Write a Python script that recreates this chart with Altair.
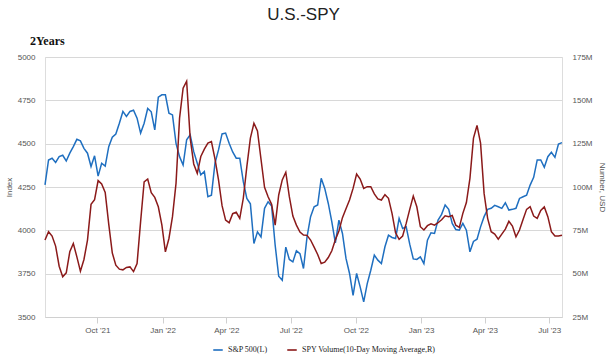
import altair as alt
import pandas as pd

start_date = "2021-07-19"
step_days = 5

sp500 = [
    4262, 4406, 4416, 4392, 4425, 4433, 4400, 4445, 4483, 4525,
    4516, 4473, 4445, 4368, 4430, 4313, 4387, 4371, 4483, 4537,
    4556, 4618, 4686, 4657, 4686, 4693, 4647, 4561, 4618, 4703,
    4684, 4579, 4768, 4782, 4782, 4676, 4666, 4502, 4425, 4377,
    4522, 4551, 4454, 4387, 4320, 4339, 4194, 4203, 4387, 4464,
    4556, 4561, 4502, 4452, 4416, 4416, 4281, 4184, 4153, 3924,
    3991, 3962, 4127, 4165, 4140, 3914, 3735, 3712, 3903, 3832,
    3818, 3882, 3866, 3780, 3962, 4079, 4136, 4146, 4300, 4242,
    4155, 4049, 3928, 4059, 3982, 3838, 3751, 3625, 3751, 3674,
    3587, 3693, 3770, 3857, 3828, 3809, 3905, 3972, 3959, 3953,
    4069, 4011, 4020, 3920, 3835, 3832, 3847, 3808, 3943, 3986,
    3982, 4059, 4092, 4146, 4121, 4040, 4005, 4001, 4040, 4001,
    3876, 3936, 3949, 4020, 4079, 4121, 4127, 4144, 4136, 4127,
    4159, 4117, 4121, 4127, 4184, 4194, 4203, 4261, 4306, 4406,
    4406, 4364, 4425, 4450, 4421, 4498, 4506,
]

spy_volume_m = [
    69.4, 74.2, 71.7, 65.9, 54.3, 48.2, 50.5, 62.6, 67.4, 59.7,
    51.4, 58.2, 69.4, 90.0, 92.7, 103.7, 101.8, 96.9, 78.6, 62.0,
    54.9, 52.6, 52.2, 53.6, 53.9, 51.2, 55.9, 80.0, 103.0, 104.6,
    96.7, 94.0, 88.6, 78.1, 62.6, 70.3, 82.9, 102.1, 139.7, 157.0,
    161.0, 128.2, 113.3, 107.9, 117.6, 121.8, 125.3, 126.2, 116.2, 104.1,
    89.2, 80.9, 79.4, 84.6, 85.4, 81.9, 93.5, 111.8, 128.2, 136.8,
    132.4, 116.0, 99.8, 94.4, 90.0, 78.0, 95.4, 104.1, 108.5, 94.4,
    83.2, 78.0, 74.0, 72.3, 72.1, 69.4, 65.3, 61.1, 55.9, 56.6,
    59.3, 63.2, 69.6, 74.6, 82.3, 87.5, 92.5, 99.2, 107.5, 104.6,
    99.2, 100.2, 100.2, 96.0, 93.1, 92.5, 95.6, 93.5, 84.8, 73.6,
    69.8, 71.7, 79.0, 87.1, 94.8, 88.6, 77.1, 75.2, 77.7, 78.8,
    78.0, 79.4, 81.1, 83.4, 82.9, 83.6, 78.0, 76.7, 84.8, 91.0,
    105.0, 128.2, 135.5, 125.3, 96.3, 81.9, 74.2, 72.8, 69.9, 72.8,
    75.7, 80.2, 77.5, 71.3, 75.2, 81.3, 87.1, 88.6, 83.2, 81.9,
    86.5, 88.5, 82.9, 74.2, 71.7, 71.7, 72.2,
]

series_names = ["S&P 500(L)", "SPY Volume(10-Day Moving Average,R)"]
series_colors = ["#1f6fc0", "#8b1a1a"]
left_ticks = [3500, 3750, 4000, 4250, 4500, 4750, 5000]
right_ticks = [25, 50, 75, 100, 125, 150, 175]
quarter_ticks = [(2021, 10), (2022, 1), (2022, 4), (2022, 7),
                 (2022, 10), (2023, 1), (2023, 4), (2023, 7)]

dates = pd.date_range(start_date, periods=len(sp500), freq=f"{step_days}D")
df = pd.DataFrame({
    "date": dates.strftime("%Y-%m-%dT00:00:00"),
    "sp500": sp500,
    "volume": spy_volume_m,
})

LABEL_FONT = "Liberation Sans"
GRAY = "#555555"

color_scale = alt.Scale(domain=series_names, range=series_colors)
legend = alt.Legend(
    orient="none", legendX=167, legendY=287, direction="horizontal",
    title=None, symbolType="stroke", symbolStrokeWidth=1.6, symbolSize=90,
    labelFont="Liberation Serif", labelFontSize=8, labelColor="#222222",
    columnPadding=16, labelOffset=4, padding=0,
)
color_enc = alt.Color("series:N", scale=color_scale, legend=legend)

x_enc = alt.X(
    "date:T",
    scale=alt.Scale(domain=[alt.DateTime(year=2021, month=7, date=19),
                            alt.DateTime(year=2023, month=7, date=19)]),
    axis=alt.Axis(
        values=[alt.DateTime(year=y, month=m, date=1) for y, m in quarter_ticks],
        format="%b '%y", title=None, grid=False,
        domainColor="#d0d0d0", tickColor="#d0d0d0", tickSize=6,
        labelPadding=3, labelFont=LABEL_FONT, labelFontSize=8, labelColor=GRAY,
    ),
)

blue = alt.Chart(df).transform_calculate(
    series=f"'{series_names[0]}'"
).mark_line(strokeWidth=1.5).encode(
    x=x_enc,
    y=alt.Y(
        "sp500:Q",
        scale=alt.Scale(domain=[3500, 5000], nice=False, zero=False),
        axis=alt.Axis(
            values=left_ticks, format="d", title="Index", grid=True,
            gridColor="#d8d8d8", domain=False, ticks=False, labelPadding=10,
            labelFont=LABEL_FONT, labelFontSize=8, labelColor=GRAY,
            titleFont=LABEL_FONT, titleFontSize=8, titleFontWeight="normal",
            titleColor=GRAY, titlePadding=4,
        ),
    ),
    color=color_enc,
)

red = alt.Chart(df).transform_calculate(
    series=f"'{series_names[1]}'"
).mark_line(strokeWidth=1.5).encode(
    x=x_enc,
    y=alt.Y(
        "volume:Q",
        scale=alt.Scale(domain=[25, 175], nice=False, zero=False),
        axis=alt.Axis(
            orient="right", values=right_ticks, labelExpr="datum.value + 'M'",
            title="Number, USD", grid=False, domain=False, ticks=False,
            labelPadding=10, labelFont=LABEL_FONT, labelFontSize=8,
            labelColor=GRAY, titleFont=LABEL_FONT, titleFontSize=8,
            titleFontWeight="normal", titleColor=GRAY, titlePadding=5,
        ),
    ),
    color=color_enc,
)

period = alt.Chart(pd.DataFrame({"t": ["2Years"]})).mark_text(
    align="left", baseline="alphabetic", font="Liberation Serif",
    fontWeight="bold", fontSize=12, color="#111111",
).encode(x=alt.value(-15), y=alt.value(-12), text="t:N")

chart = alt.layer(blue, red, period).resolve_scale(
    y="independent"
).properties(
    width=517, height=260,
    title=alt.TitleParams(
        "U.S.-SPY", fontSize=17, font=LABEL_FONT, fontWeight="normal",
        color="#222222", anchor="middle", offset=11,
    ),
    autosize=alt.AutoSizeParams(type="none"),
    padding={"left": 45, "top": 57, "right": 49, "bottom": 39},
).configure_view(stroke=None).configure(background="white")

chart.save("out.html", embed_options={"renderer": "svg", "actions": False})
